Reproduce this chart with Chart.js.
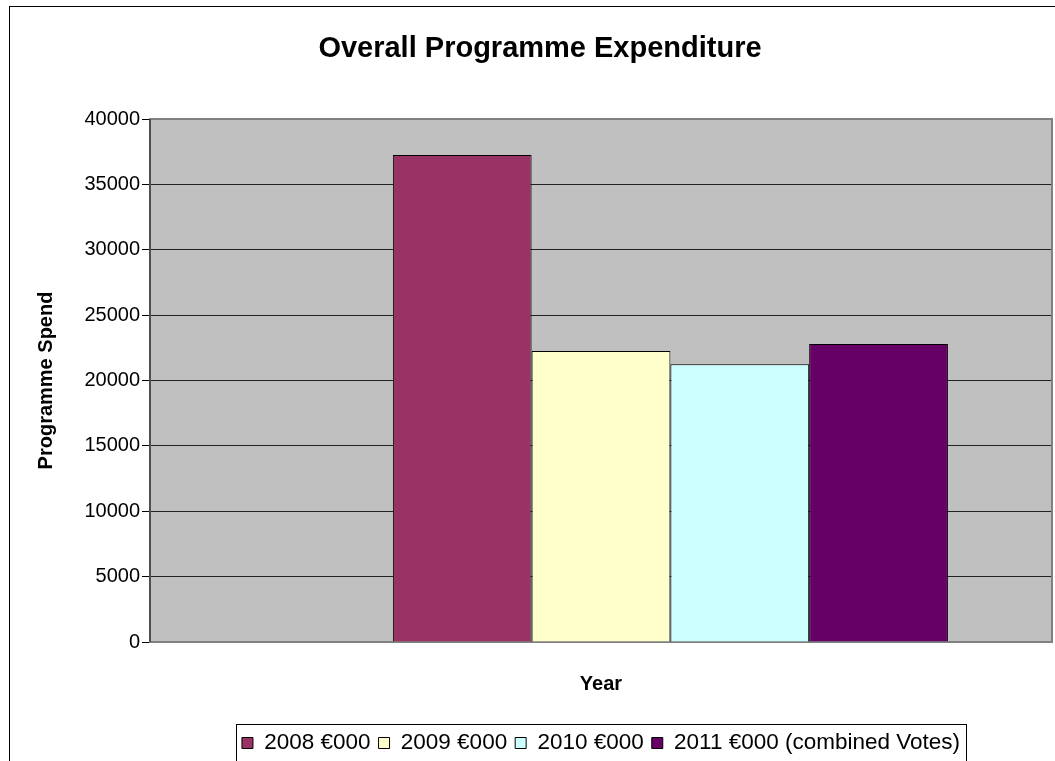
<!DOCTYPE html>
<html>
<head>
<meta charset="utf-8">
<script src="https://cdn.jsdelivr.net/npm/chart.js@4.4.0/dist/chart.umd.min.js"></script>
<style>
  body { margin: 0; background: #fff; overflow: hidden; }
</style>
</head>
<body>
<canvas id="spendChart" width="1055" height="780"></canvas>
<script>
// values
const categories = [""];
const seriesLabels = ["", "2008 €000", "2009 €000", "2010 €000", "2011 €000 (combined Votes)"];
const spend2008 = [37250];
const spend2009 = [22250];
const spend2010 = [21250];
const spend2011 = [22800];
const emptySeries = [null]; // blank first series in the original sheet, keeps bars off-centre
const seriesColours = ["#ffffff", "#993366", "#FFFFCC", "#CCFFFF", "#660066"];
const yTicks = [0, 5000, 10000, 15000, 20000, 25000, 30000, 35000, 40000];

const allSeries = [emptySeries, spend2008, spend2009, spend2010, spend2011];

// grey plot background + outer frame + legend box, like the excel chart
const excelLook = {
    id: "excelLook",
    beforeDraw(chart) {
        const a = chart.chartArea;
        const ctx = chart.ctx;
        ctx.save();
        ctx.fillStyle = "#fff";
        ctx.fillRect(0, 0, chart.width, chart.height);
        ctx.fillStyle = "#C0C0C0";
        ctx.fillRect(a.left, a.top, a.right - a.left, a.bottom - a.top);
        ctx.restore();
    },
    beforeDatasetsDraw(chart) {
        const a = chart.chartArea;
        const ctx = chart.ctx;
        ctx.save();
        ctx.strokeStyle = "#808080";
        ctx.lineWidth = 2;
        ctx.strokeRect(a.left, a.top, a.right - a.left, a.bottom - a.top);
        ctx.strokeStyle = "#404040";
        ctx.lineWidth = 1.5;
        ctx.beginPath();
        ctx.moveTo(a.left, a.top);
        ctx.lineTo(a.left, a.bottom);
        ctx.stroke();
        ctx.restore();
    },
    afterDraw(chart) {
        const ctx = chart.ctx;
        ctx.save();
        ctx.strokeStyle = "#000";
        ctx.lineWidth = 1;
        ctx.strokeRect(9.5, 6.5, 2000, 2000); // chart frame runs off the picture
        // box round the legend
        const boxes = chart.legend.legendHitBoxes;
        if (boxes.length) {
            let left = Infinity, right = -Infinity;
            boxes.forEach(b => {
                left = Math.min(left, b.left);
                right = Math.max(right, b.left + b.width);
            });
            ctx.strokeRect(Math.round(left - 6) + 0.5, Math.round(chart.legend.top) + 0.5,
                Math.round(right - left + 12), 200);
        }
        ctx.restore();
    }
};

let spendChart = new Chart("spendChart", {
    type: "bar",
    data: {
        labels: categories,
        datasets: allSeries.map((values, i) => ({
            label: seriesLabels[i],
            data: values,
            backgroundColor: seriesColours[i],
            borderColor: "#000",
            borderWidth: 1,
            categoryPercentage: 5 / 6.5, // excel gap width 150%
            barPercentage: 1
        }))
    },
    options: {
        responsive: false,
        animation: false,
        layout: { padding: { left: 28, right: 3, top: 0, bottom: 15.75 } },
        plugins: {
            title: {
                display: true,
                text: "Overall Programme Expenditure",
                color: "#000",
                font: { family: "Liberation Sans", size: 29, weight: "bold" },
                padding: { top: 31.6, bottom: 52.6 }
            },
            legend: {
                position: "bottom",
                fullSize: false, // centre it under the plot area
                labels: {
                    color: "#000",
                    font: { family: "Liberation Sans", size: 22.5 },
                    boxWidth: 11,
                    boxHeight: 11,
                    padding: 8,
                    filter: item => item.text !== ""
                }
            },
            tooltip: { enabled: false }
        },
        scales: {
            x: {
                ticks: { display: false },
                grid: { display: false },
                border: { display: false },
                title: {
                    display: true,
                    text: "Year",
                    color: "#000",
                    font: { family: "Liberation Sans", size: 20, weight: "bold" },
                    padding: { top: 22, bottom: 27.75 }
                }
            },
            y: {
                min: 0,
                max: 40000,
                afterFit: scale => { scale.width = 122; },
                afterBuildTicks: scale => { scale.ticks = yTicks.map(v => ({ value: v })); },
                ticks: {
                    color: "#000",
                    font: { family: "Liberation Sans", size: 20 },
                    padding: 2,
                    callback: value => String(value) // no thousands comma
                },
                grid: {
                    color: "#222",
                    tickColor: "#000",
                    tickLength: 8
                },
                border: { display: false },
                title: {
                    display: true,
                    text: "Programme Spend",
                    color: "#000",
                    font: { family: "Liberation Sans", size: 20, weight: "bold" },
                    padding: { top: 6, bottom: 0 }
                }
            }
        }
    },
    plugins: [excelLook]
});
</script>
</body>
</html>
